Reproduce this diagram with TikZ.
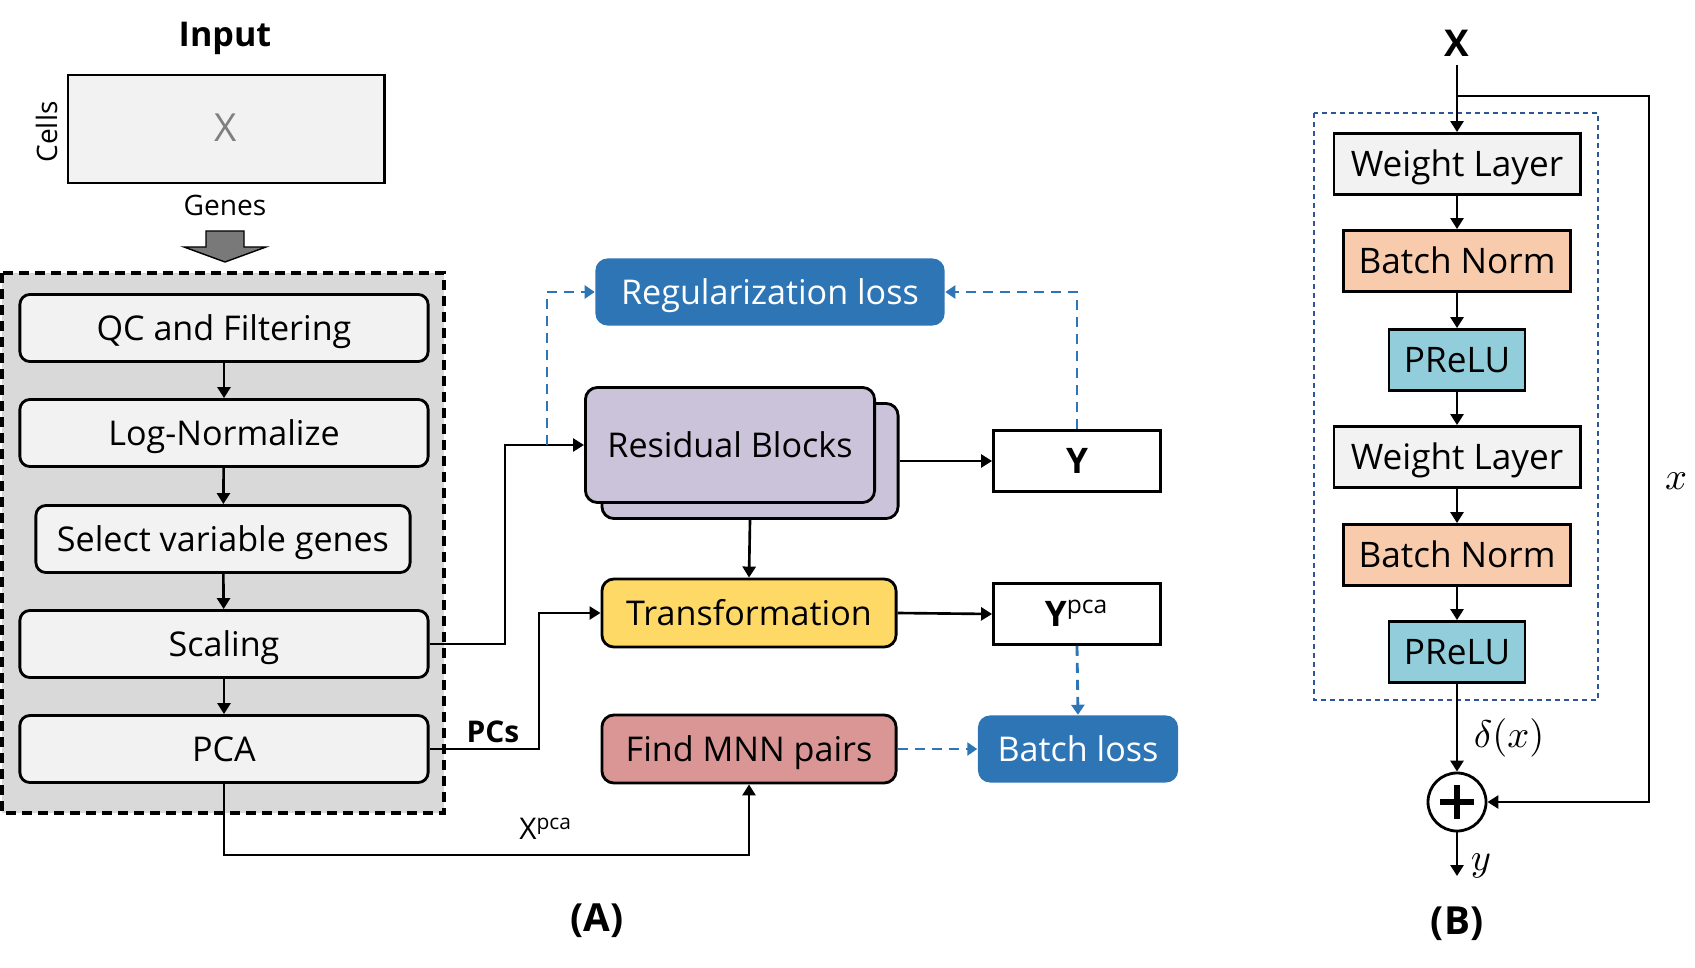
\documentclass[tikz,border=0pt]{standalone}
\usepackage{amsmath, amssymb}
\usepackage{fontspec}
\setmainfont{Open Sans}
\usepackage{xcolor}
\usepackage{tikz}
\usetikzlibrary{arrows.meta}

\definecolor{lossblue}{HTML}{2E75B6}
\definecolor{boxgrey}{HTML}{F2F2F2}
\definecolor{panelgrey}{HTML}{D9D9D9}
\definecolor{resviolet}{HTML}{CBC3D9}
\definecolor{transyellow}{HTML}{FFD966}
\definecolor{mnnred}{HTML}{D99694}
\definecolor{bnorange}{HTML}{F8CBAD}
\definecolor{prelucyan}{HTML}{92CDDC}
\definecolor{frameblue}{HTML}{2F5597}

\tikzset{
  captext/.style={text height=1.33ex, text depth=0pt},
  stepbox/.style={draw, line width=0.8pt, rounded corners=0.1cm, fill=boxgrey,
    minimum width=4.08cm, minimum height=0.67cm, inner sep=0pt, captext,
    font=\fontsize{9.7}{11}\selectfont},
  midbox/.style={draw, line width=0.8pt, rounded corners=0.12cm,
    minimum width=2.94cm, minimum height=0.68cm, inner sep=0pt, captext,
    font=\fontsize{9.7}{11}\selectfont},
  lossbox/.style={fill=lossblue, text=white, rounded corners=0.12cm, captext,
    minimum height=0.67cm, inner sep=0pt, font=\fontsize{9.7}{11}\selectfont},
  outbox/.style={draw, line width=0.8pt, fill=white, minimum width=1.67cm,
    minimum height=0.61cm, inner sep=0pt, captext, font=\fontsize{10}{12}\selectfont\bfseries},
  layerbox/.style={draw, line width=0.8pt, minimum height=0.61cm, inner sep=0pt,
    captext, font=\fontsize{10}{12}\selectfont},
  flow/.style={line width=0.75pt, -{Triangle[length=0.11cm, width=0.13cm]}},
  lossflow/.style={lossblue, line width=0.8pt, dash pattern=on 0.1cm off 0.07cm,
    -{Triangle[length=0.1cm, width=0.13cm]}},
}

\begin{document}
\begin{tikzpicture}[x=0.01cm, y=-0.01cm]
  \useasboundingbox (0,0) rectangle (1695,967);

  % (A) preprocessing
  \node[font=\fontsize{9.7}{11}\selectfont\bfseries] (input) at (225,38) {Input};
  \node[draw, line width=0.8pt, fill=boxgrey, minimum width=3.16cm, minimum height=1.08cm,
    text=gray, captext, font=\fontsize{11}{13}\selectfont] (xmat) at (226,129) {X};
  \node[rotate=90, font=\fontsize{8}{10}\selectfont] (cells) at (47,132) {Cells};
  \node[font=\fontsize{8}{10}\selectfont] (genes) at (225,205) {Genes};
  \draw[fill=gray!95!black, line width=0.4pt] (206,231) -- (244,231) -- (244,247) -- (266,247)
    -- (225,262) -- (184,247) -- (206,247) -- cycle;
  \draw[fill=panelgrey, line width=0.9pt, dash pattern=on 0.1cm off 0.06cm]
    (2,273) rectangle (444,813);

  \node[stepbox] (qc) at (224,328) {QC and Filtering};
  \node[stepbox] (lognorm) at (224,433) {Log-Normalize};
  \node[stepbox, minimum width=3.74cm] (hvg) at (223,539) {Select variable genes};
  \node[stepbox] (scale) at (224,644) {Scaling};
  \node[stepbox] (pca) at (224,749) {PCA};

  \draw[flow] (qc) -- (lognorm);
  \draw[flow] (lognorm) -- (hvg);
  \draw[flow] (hvg) -- (scale);
  \draw[flow] (scale) -- (pca);

  % network
  \node[lossbox, minimum width=3.49cm] (reg) at (770,292) {Regularization loss};
  \node[midbox, fill=resviolet, minimum width=2.96cm, minimum height=1.15cm] (resback) at (750,461) {};
  \node[midbox, fill=resviolet, minimum width=2.89cm, minimum height=1.15cm] (res) at (730,445) {Residual Blocks};
  \node[outbox] (yout) at (1077,461) {Y};
  \node[midbox, fill=transyellow] (trans) at (749,613) {Transformation};
  \node[outbox] (ypca) at (1077,614) {Y\textsuperscript{\mdseries pca}};
  \node[midbox, fill=mnnred] (mnn) at (749,749) {Find MNN pairs};
  \node[lossbox, minimum width=2.0cm] (batch) at (1078,749) {Batch loss};

  \node[font=\fontsize{8.5}{10}\selectfont\bfseries] (pcs) at (493,732) {PCs};
  \node[font=\fontsize{8.5}{10}\selectfont] (xpca) at (546,829) {X\textsuperscript{pca}};
  \node[font=\fontsize{11}{13}\selectfont\bfseries] (tagA) at (597,921) {(A)};

  \coordinate (split) at (547,445);
  \draw[flow] (scale.east) -- (505,644) -- (505,445) -- (res.west);
  \draw[flow] (resback.east) -- (yout.west);
  \draw[flow] (resback.south) -- (trans.north);
  \draw[flow] (trans.east) -- (ypca.west);
  \draw[flow] (pca.east) -- (539,749) -- (539,613) -- (trans.west);
  \draw[flow] (pca.south) -- (224,855) -- (749,855) -- (mnn.south);
  \draw[lossflow] (split) -- (547,292) -- (reg.west);
  \draw[lossflow] (yout.north) -- (1077,292) -- (reg.east);
  \draw[lossflow] (ypca.south) -- (batch.north);
  \draw[lossflow] (mnn.east) -- (batch.west);

  % (B) residual block
  \draw[frameblue, line width=0.5pt, dash pattern=on 0.05cm off 0.04cm] (1314,113) rectangle (1598,700);
  \node[font=\fontsize{10.5}{12}\selectfont\bfseries] (xin) at (1457,43) {X};
  \node[layerbox, fill=boxgrey, minimum width=2.46cm] (wl1) at (1457,164) {Weight Layer};
  \node[layerbox, fill=bnorange, minimum width=2.27cm] (bn1) at (1457,261) {Batch Norm};
  \node[layerbox, fill=prelucyan, minimum width=1.36cm] (pr1) at (1457,360) {PReLU};
  \node[layerbox, fill=boxgrey, minimum width=2.46cm] (wl2) at (1457,457) {Weight Layer};
  \node[layerbox, fill=bnorange, minimum width=2.27cm] (bn2) at (1457,555) {Batch Norm};
  \node[layerbox, fill=prelucyan, minimum width=1.36cm] (pr2) at (1457,652) {PReLU};
  \node[circle, draw, line width=0.8pt, fill=white, minimum size=0.58cm, inner sep=0pt] (plus) at (1457,802) {};
  \draw[line width=1.5pt] (1440,802) -- (1474,802) (1457,785) -- (1457,819);
  \coordinate (yend) at (1457,876);
  \coordinate (skip) at (1457,96);

  \node[font=\fontsize{11}{13}\selectfont] (dlabel) at (1509,738) {$\delta(x)$};
  \node[font=\fontsize{11}{13}\selectfont] (ylabel) at (1481,866) {$y$};
  \node[font=\fontsize{11}{13}\selectfont] (xlabel) at (1676,481) {$x$};
  \node[font=\fontsize{11}{13}\selectfont\bfseries] (tagB) at (1457,924) {(B)};

  \draw[flow] (1457,65) -- (wl1.north);
  \draw[flow] (wl1) -- (bn1);
  \draw[flow] (bn1) -- (pr1);
  \draw[flow] (pr1) -- (wl2);
  \draw[flow] (wl2) -- (bn2);
  \draw[flow] (bn2) -- (pr2);
  \draw[flow] (pr2) -- (plus);
  \draw[flow] (plus) -- (yend);
  \draw[flow] (skip) -- (1649,96) -- (1649,802) -- (plus.east);
\end{tikzpicture}
\end{document}
